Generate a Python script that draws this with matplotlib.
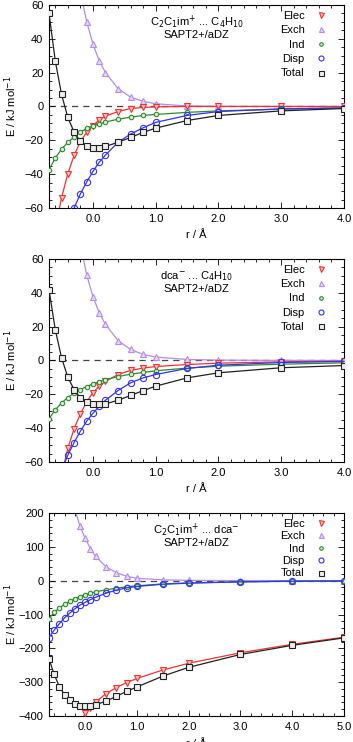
import matplotlib
matplotlib.use("Agg")
import matplotlib.pyplot as plt
from matplotlib.lines import Line2D
from matplotlib.ticker import MultipleLocator

plt.rcParams['font.family'] = ['Liberation Sans', 'DejaVu Sans']
plt.rcParams['font.size'] = 8

r = [-0.7, -0.6, -0.5, -0.4, -0.3, -0.2, -0.1, 0.0, 0.1, 0.2, 0.4, 0.6, 0.8, 1.0, 1.5, 2.0, 3.0, 4.0]
r3 = r + [5.0]

# panel 1: C2C1im+ ... C4H10
elec1 = [-100, -72, -54, -39.7, -28.9, -20.7, -15.3, -11.4, -7.9, -5.7, -3.0, -1.2, -0.6, -0.2, 0.0, 0.0, 0.0, 0.0]
exch1 = [320, 235, 173, 127, 93, 68, 50.2, 37, 27, 20, 10.6, 5.5, 3.0, 1.6, 0.3, 0.1, 0.0, 0.0]
ind1 = [-37.4, -30.5, -25.2, -21.2, -18.1, -15.1, -13.0, -11.4, -10.4, -9.2, -7.5, -6.3, -5.3, -4.7, -3.5, -2.6, -1.6, -1.0]
disp1 = [-110, -95, -82, -70, -60, -51.7, -44.7, -38.4, -33, -28.7, -21.2, -16.3, -12.6, -9.4, -5.3, -3.0, -1.4, -0.8]
total1 = [55.1, 27, 7.1, -6.5, -15.1, -20.7, -23.6, -24.6, -24.8, -23.6, -21.2, -18.3, -15.3, -12.8, -8.3, -5.3, -2.6, -1.2]

# panel 2: dca- ... C4H10
elec2 = [-118, -90, -68, -52, -40.3, -31.6, -24.5, -19, -15.2, -12.4, -8.3, -5.9, -4.5, -3.6, -2.4, -1.6, -0.8, -0.4]
exch2 = [330, 240, 175, 128, 94, 69, 50.7, 37.7, 28.2, 21.3, 11.8, 6.5, 3.6, 2.0, 0.6, 0.2, 0.05, 0.0]
ind2 = [-34.5, -29.2, -25.1, -21.9, -19.3, -17.2, -15.4, -13.8, -12.6, -11.4, -9.5, -8.1, -7.1, -6.1, -4.5, -3.4, -2.2, -1.4]
disp2 = [-87, -75, -65, -56, -48.5, -41.8, -35.9, -31.2, -27.2, -23.5, -17.8, -13.2, -10.3, -8.3, -4.7, -2.8, -1.2, -0.6]
total2 = [41.8, 18.2, 1.6, -9.9, -17.2, -22.1, -24.5, -25.7, -26, -25.7, -23.5, -20.7, -17.8, -15.2, -10.3, -7.3, -4.3, -3.0]

# panel 3: C2C1im+ ... dca-
elec3 = [-700, -640, -590, -545, -505, -470, -425, -391, -375, -359, -334, -316, -301, -289, -264, -244, -213, -188, -167]
exch3 = [600, 480, 390, 320, 265, 210, 161, 125, 95, 72, 41, 24, 13, 7, 2.5, 1.0, 0.3, 0.1, 0.0]
ind3 = [-112, -94, -81, -70, -61, -53, -47, -41, -37, -33, -27, -22, -18, -15, -9.5, -6.4, -3.4, -1.5, -1.0]
disp3 = [-168, -146, -127, -110, -96, -83, -72, -64, -56, -49, -37, -28, -21, -17, -10.5, -7.4, -3.4, -1.5, -1.0]
total3 = [-231, -277, -313, -337, -354, -364, -369, -371, -371, -367, -356, -342, -327, -314, -282, -256, -218, -191, -169]

names = ["Elec", "Exch", "Ind", "Disp", "Total"]
colors = ["#ee3333", "#b48cec", "#2f8a2f", "#3333ee", "#222222"]
markers = ["v", "^", "o", "o", "s"]
msizes = [4.5, 4.5, 3.2, 4.5, 4.5]
fills = ["#f8c0c0", "#e6d8f8", "#d8ecd8", "none", "#eeeeee"]

panels = [
    (r, [elec1, exch1, ind1, disp1, total1], (-60, 60), 20, 5, 4.0,
     "C$_2$C$_1$im$^{+}$ ... C$_4$H$_{10}$", 0.4),
    (r, [elec2, exch2, ind2, disp2, total2], (-60, 60), 20, 5, 4.0,
     "dca$^{-}$ ... C$_4$H$_{10}$", 0.4),
    (r3, [elec3, exch3, ind3, disp3, total3], (-400, 200), 100, 20, 5.0,
     "C$_2$C$_1$im$^{+}$ ... dca$^{-}$", 0.22),
]

fig = plt.figure(figsize=(3.53, 7.42), dpi=100)
bottoms = [0.7197, 0.3774, 0.035]

for (x, series, ylim, ymaj, ymin, xmax, title, lsp), b in zip(panels, bottoms):
    ax = fig.add_axes([0.1388, b, 0.8357, 0.2736])
    ax.axhline(0, color="#444444", ls=(0, (5, 4)), lw=0.9, zorder=1)
    for s, name, c, m, ms, fc in zip(series, names, colors, markers, msizes, fills):
        ax.plot(x, s, color=c, lw=0.9, marker=m, ms=ms, mfc=fc, mec=c, mew=0.8,
                zorder=3 if name != "Exch" else 2)
    ax.set_xlim(-0.7, xmax)
    ax.set_ylim(*ylim)
    ax.xaxis.set_major_locator(MultipleLocator(1.0))
    ax.xaxis.set_minor_locator(MultipleLocator(0.2))
    ax.yaxis.set_major_locator(MultipleLocator(ymaj))
    ax.yaxis.set_minor_locator(MultipleLocator(ymin))
    ax.xaxis.set_major_formatter(lambda v, p: f"{v:.1f}")
    ax.tick_params(which="both", direction="in", top=True, right=True, width=0.6)
    ax.tick_params(which="major", length=4, pad=4)
    ax.tick_params(which="minor", length=2)
    for sp in ax.spines.values():
        sp.set_linewidth(0.8)
    ax.set_xlabel("r / Å", labelpad=5)
    ax.set_ylabel("E / kJ mol$^{-1}$")
    ax.yaxis.set_label_coords(-0.1, 0.5)
    ax.text(0.5, 0.915, title, transform=ax.transAxes, ha="center", va="center")
    ax.text(0.5, 0.85, "SAPT2+/aDZ", transform=ax.transAxes, ha="center", va="center")
    handles = [Line2D([], [], ls="none", marker=m, ms=ms * 0.8, mfc=fc, mec=c, mew=0.8)
               for m, ms, c, fc in zip(markers, msizes, colors, fills)]
    ax.legend(handles, names, loc="upper right", frameon=False, markerfirst=False,
              handlelength=1.0, handletextpad=1.0, labelspacing=lsp,
              borderaxespad=0.2, bbox_to_anchor=(0.965, 1.005))

fig.savefig("out.png", dpi=100)
